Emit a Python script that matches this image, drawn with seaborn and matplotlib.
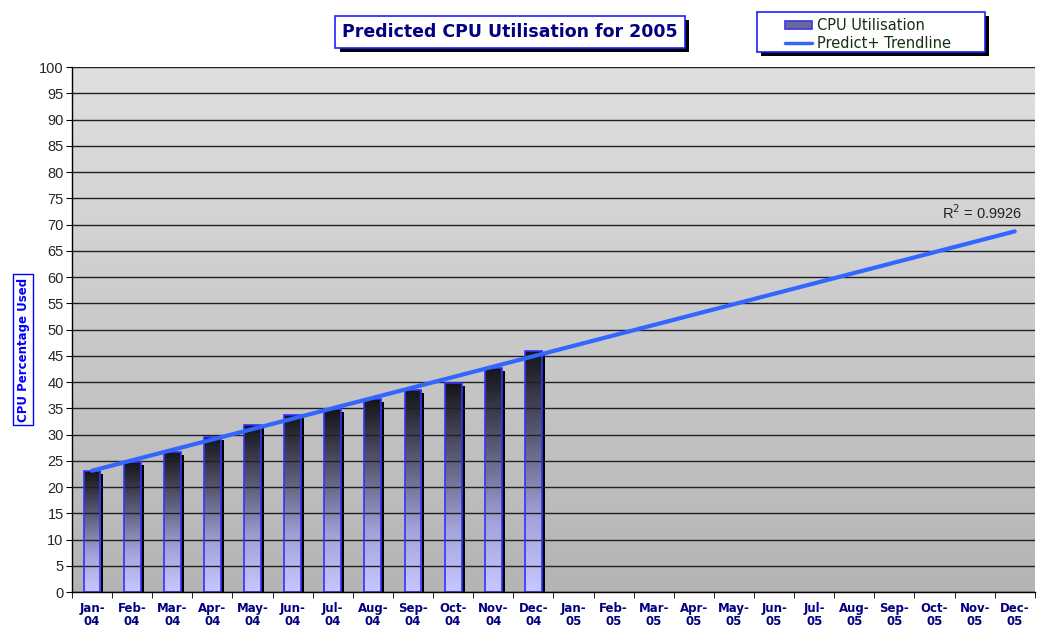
import numpy as np
import pandas as pd
import seaborn as sns
import matplotlib.pyplot as plt
import matplotlib.transforms as mtransforms
from matplotlib.patches import Rectangle
from matplotlib.lines import Line2D
from matplotlib.colors import LinearSegmentedColormap
import matplotlib.patheffects as pe

# data
months = ["Jan", "Feb", "Mar", "Apr", "May", "Jun", "Jul", "Aug", "Sep", "Oct", "Nov", "Dec"]
years = ["04", "05"]
cpu_2004 = [23.0, 24.7, 26.7, 29.6, 31.8, 33.8, 34.8, 36.7, 38.5, 39.8, 42.7, 46.0]
r_squared = 0.9926
series_names = ["CPU Utilisation", "Predict+ Trendline"]

labels = [f"{m}-{y}" for y in years for m in months]
cpu = cpu_2004 + [np.nan] * 12
df = pd.DataFrame({"month": labels, "cpu": cpu})

# linear trendline fitted on the 2004 values, extended over 2005
idx = np.arange(len(labels))
slope, intercept = np.polyfit(np.arange(len(cpu_2004)), cpu_2004, 1)
df["trend"] = intercept + slope * idx

sns.set_style("white")
plt.rcParams["font.family"] = ["Liberation Sans", "DejaVu Sans"]

fig = plt.figure(figsize=(10.39, 6.28), dpi=100)
ax = fig.add_axes([0.0693, 0.0573, 0.9267, 0.836])

# grey gradient background
bg = LinearSegmentedColormap.from_list("bg", ["#b4b4b4", "#e0e0e0"])
ax.imshow(np.linspace(0, 1, 256).reshape(-1, 1), cmap=bg, origin="lower",
          extent=[0, 1, 0, 1], transform=ax.transAxes, aspect="auto", zorder=0)

sns.barplot(data=df, x="month", y="cpu", ax=ax, width=0.42, facecolor="none",
            edgecolor="#3333ff", linewidth=1.2, zorder=3)

bar_cmap = LinearSegmentedColormap.from_list(
    "bars", [(0, "#c8c8ff"), (0.3, "#a4a4dc"), (0.62, "#60607e"), (1, "#141418")])
grad = np.linspace(0, 1, 256).reshape(-1, 1)
for p in ax.patches:
    h = p.get_height()
    if not np.isfinite(h) or h <= 0:
        continue
    x0, w = p.get_x(), p.get_width()
    shadow_tr = mtransforms.offset_copy(ax.transData, fig=fig, x=3, y=-3, units="dots")
    ax.add_patch(Rectangle((x0, 0), w, h, facecolor="black", edgecolor="none",
                           transform=shadow_tr, zorder=2))
    im = ax.imshow(grad, cmap=bar_cmap, origin="lower", extent=[x0, x0 + w, 0, h],
                   aspect="auto", zorder=2.5)
    im.set_clip_path(p)

sns.lineplot(data=df, x="month", y="trend", ax=ax, color="#3366ff", linewidth=3,
             sort=False, zorder=4)

ax.set_xlim(-0.5, len(labels) - 0.5)
ax.set_ylim(0, 100)
ax.set_yticks(np.arange(0, 101, 5))
ax.grid(axis="y", color="#202020", linewidth=1, zorder=1)
ax.set_axisbelow(False)
for ln in ax.get_ygridlines():
    ln.set_zorder(1)

ax.set_xticks(idx)
ax.set_xticklabels([l.replace("-", "-\n") for l in labels], fontsize=8.5, fontweight="bold",
                   color="#000080", family="DejaVu Sans", linespacing=1.05)
ax.set_xticks(np.arange(-0.5, len(labels)), minor=True)
ax.tick_params(axis="x", which="major", length=0, pad=7)
ax.tick_params(axis="x", which="minor", length=4, color="black", direction="out", bottom=True)
ax.tick_params(axis="y", length=4, color="black", direction="out", left=True, labelsize=10.5, pad=2)

for s in ["top", "right"]:
    ax.spines[s].set_visible(False)
for s in ["left", "bottom"]:
    ax.spines[s].set_color("black")
    ax.spines[s].set_linewidth(1)
    ax.spines[s].set_zorder(5)

ax.set_xlabel("")
ax.set_ylabel("")

ax.text(23.2, 72.2, f"R$^2$ = {r_squared}", fontsize=10.5, ha="right", va="center",
        color="#222222", zorder=6)

# y axis title
fig.text(0.0222, 0.443, "CPU Percentage Used", rotation=90, ha="center", va="center",
         fontsize=8.5, fontweight="bold", color="#0000ff", family="DejaVu Sans",
         bbox=dict(boxstyle="square,pad=0.3", fc="white", ec="#0000ff", lw=1))

# chart title
t = fig.text(0.491, 0.949, "Predicted CPU Utilisation for 2005", ha="center", va="center",
             fontsize=12.5, fontweight="bold", color="#000080", family="DejaVu Sans",
             bbox=dict(boxstyle="square,pad=0.4", fc="white", ec="#2020ff", lw=1.2))
t.get_bbox_patch().set_path_effects([pe.withSimplePatchShadow(offset=(3, -3),
                                     shadow_rgbFace="black", alpha=1)])

# legend box, drawn by hand to get the wide Excel-style frame
box = Rectangle((0.7286, 0.9172), 0.2194, 0.0637, transform=fig.transFigure,
                facecolor="white", edgecolor="#2020ff", linewidth=1.2, zorder=5)
box.set_path_effects([pe.withSimplePatchShadow(offset=(3, -3), shadow_rgbFace="black", alpha=1)])
fig.patches.append(box)
swatch = Rectangle((0.7555, 0.9535), 0.026, 0.0125, transform=fig.transFigure,
                   facecolor="#6a6a90", edgecolor="#3333ff", linewidth=1.2, zorder=6)
fig.patches.append(swatch)
fig.lines.append(Line2D([0.7555, 0.7815], [0.9315, 0.9315], transform=fig.transFigure,
                        color="#3366ff", linewidth=2.5, zorder=6))
for ypos, name in zip([0.960, 0.9315], series_names):
    fig.text(0.7865, ypos, name, ha="left", va="center", fontsize=10.5,
             family="DejaVu Sans", color="#143014", zorder=7)

fig.savefig("out.png", dpi=100)
